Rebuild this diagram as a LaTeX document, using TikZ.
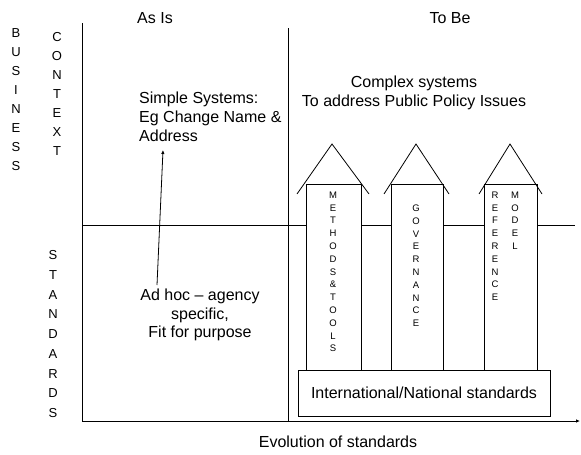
\documentclass[tikz,border=0pt]{standalone}
\usepackage{fontspec}
\setmainfont{Liberation Sans}
\usetikzlibrary{arrows.meta}
\tikzset{
  line/.style={draw=black, line width=0.8pt},
  lbl/.style={inner sep=0pt, font=\fontsize{16}{19}\selectfont, align=center},
  stack/.style={inner sep=0pt, font=\fontsize{13}{19}\selectfont, align=center, anchor=north},
  shafttext/.style={inner sep=0pt, font=\fontsize{9.5}{12.8}\selectfont, align=center, anchor=north},
  shaft/.style={line, fill=white},
  roof/.style={line, line join=miter},
}
\begin{document}
\begin{tikzpicture}[x=1pt, y=-1pt]
\useasboundingbox (0,0) rectangle (581,455);

% axes and quadrant lines
\coordinate (ytop) at (82,23);
\coordinate (origin) at (82,421);
\coordinate (xend) at (580,421);
\coordinate (midtop) at (288,28);
\coordinate (midbot) at (288,421);
\coordinate (hl) at (82,225);
\coordinate (hr) at (575,225);
\draw[line] (hl) -- (hr);
\draw[line] (midtop) -- (midbot);
\draw[line, -{Latex[length=4pt,width=3.5pt]}] (ytop) -- (origin) -- (xend);

% column headings
\node[lbl] (asis) at (155,18) {As Is};
\node[lbl] (tobe) at (450,18) {To Be};

% row labels
\node[stack] (business) at (16,28.5) {B\\U\\S\\I\\N\\E\\S\\S};
\node[stack] (context) at (57,32) {C\\O\\N\\T\\E\\X\\T};
\node[stack, font=\fontsize{13}{19.75}\selectfont] (standards) at (53,250.3) {S\\T\\A\\N\\D\\A\\R\\D\\S};

% as-is quadrant
\node[lbl, anchor=west, align=left] (simple) at (139,117) {Simple Systems:\\Eg Change Name \&\\Address};
\node[lbl, font=\fontsize{16}{18.5}\selectfont] (adhoc) at (200,315) {Ad hoc -- agency\\specific,\\Fit for purpose};
\coordinate (riseA) at (157,285);
\coordinate (riseB) at (163,150);
\draw[line, -{Latex[length=4pt,width=3.5pt]}] (riseA) -- (riseB);

% to-be quadrant
\node[lbl] (complex) at (414,92.5) {Complex systems\\To address Public Policy Issues};

% pillar arrows
\draw[shaft] (306,184) rectangle (361,370);
\draw[roof] (297,194) -- (332,144) -- (369,194);
\draw[shaft] (391,184) rectangle (443,370);
\draw[roof] (384,194) -- (416,144) -- (449,194);
\draw[shaft] (484,184) rectangle (537,370);
\draw[roof] (479,194) -- (510,144) -- (542,194);

\node[shafttext] (methods) at (333,191.6) {M\\E\\T\\H\\O\\D\\S\\\&\\T\\O\\O\\L\\S};
\node[shafttext] (governance) at (416,204.6) {G\\O\\V\\E\\R\\N\\A\\N\\C\\E};
\node[shafttext] (reference) at (495,191.6) {R\\E\\F\\E\\R\\E\\N\\C\\E};
\node[shafttext] (model) at (515,191.6) {M\\O\\D\\E\\L};

% base box
\node[line, fill=white, minimum width=252pt, minimum height=46pt, inner sep=0pt,
      font=\fontsize{16}{19}\selectfont] (intl) at (424,393) {International/National standards};

% axis caption
\node[lbl] (evol) at (338,442) {Evolution of standards};
\end{tikzpicture}
\end{document}
